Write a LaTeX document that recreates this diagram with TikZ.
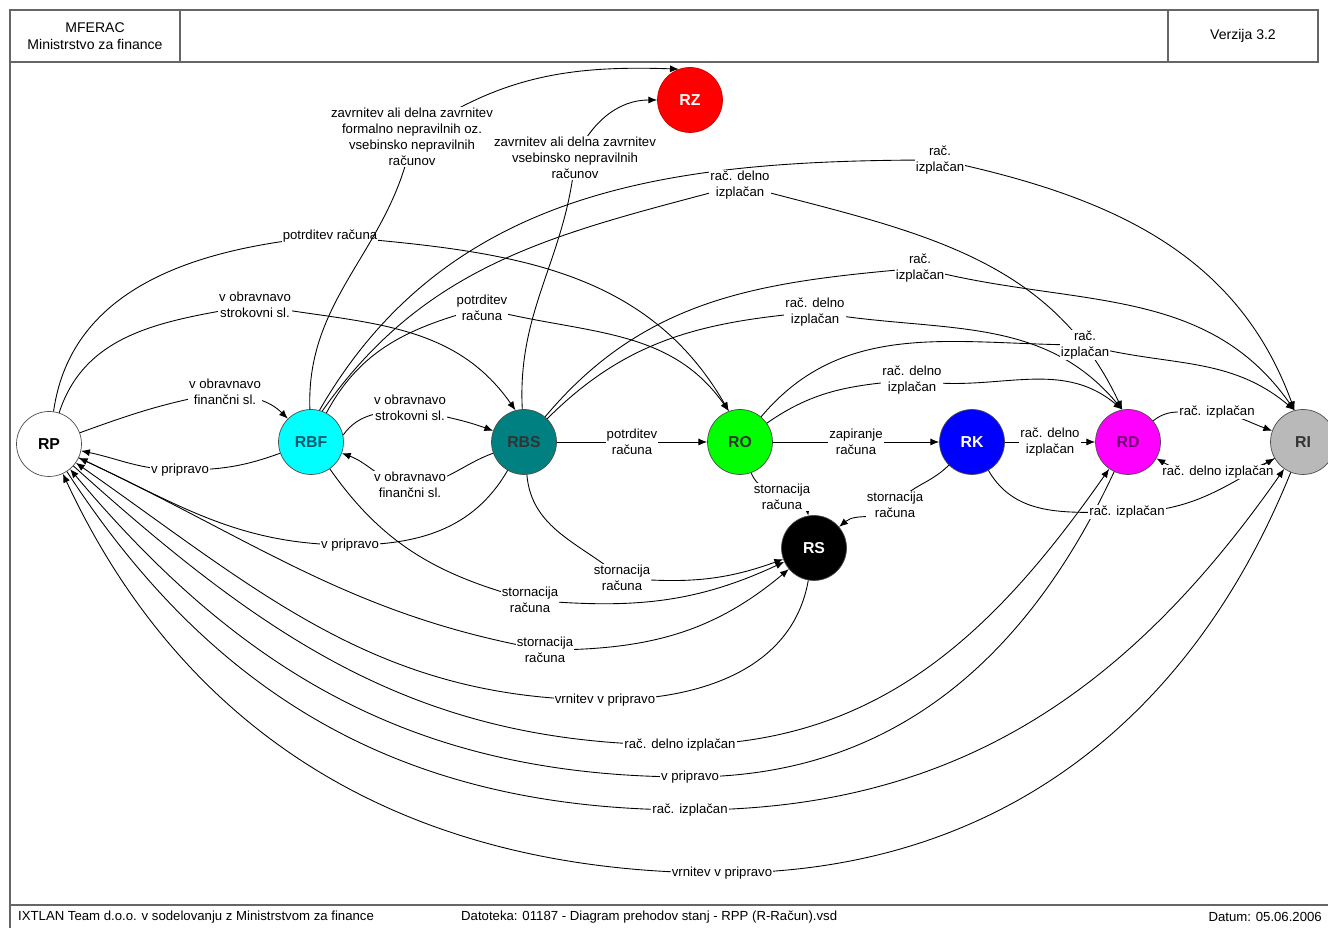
\documentclass[tikz,border=0pt]{standalone}
\usepackage{fontspec}
\setmainfont{Liberation Sans}
\usetikzlibrary{arrows.meta}

\definecolor{riGray}{RGB}{185,185,185}
\definecolor{rdText}{RGB}{110,0,110}
\definecolor{rbfText}{RGB}{0,90,110}
\definecolor{rbfCyan}{RGB}{0,255,255}
\definecolor{rdMagenta}{RGB}{255,0,255}
\definecolor{roGreen}{RGB}{0,255,0}
\definecolor{rbsTeal}{RGB}{0,128,128}

\begin{document}
\begin{tikzpicture}[
  x=0.02cm, y=0.02cm,
  state/.style={draw=black!70,circle,minimum size=1.3cm,inner sep=0pt,
    font=\fontsize{9}{10}\selectfont\bfseries},
  white_state/.style={fill=white},
  cyan_state/.style={fill=rbfCyan,text=rbfText},
  teal_state/.style={fill=rbsTeal,text=black!80},
  green_state/.style={fill=roGreen,text=black!80},
  blue_state/.style={fill=blue,text=white},
  magenta_state/.style={fill=rdMagenta,text=rdText},
  gray_state/.style={fill=riGray,text=black!80},
  black_state/.style={fill=black,text=white},
  red_state/.style={fill=red,draw=red!80!black,text=white},
  trans/.style={-{Latex[length=5pt,width=4pt]},line width=0.5pt},
  lbl/.style={fill=white,inner sep=0.6pt,align=center,
    font=\fontsize{7.5}{9}\selectfont},
  frame/.style={draw=black!60,line width=0.8pt},
  info/.style={font=\fontsize{8}{9.5}\selectfont,align=center},
  foot/.style={font=\fontsize{7.5}{9}\selectfont}
  ]
	\useasboundingbox (0,0) rectangle (1328,928);

	% header and frame
	\draw[frame] (10,866) rectangle (1318,918);
	\draw[frame] (180,866) -- (180,918);
	\draw[frame] (1168,866) -- (1168,918);
	\draw[frame] (10,866) -- (10,0);
	\draw[frame] (10,23) -- (1328,23);
	\node[info] (org) at (95,892) {MFERAC\\Ministrstvo za finance};
	\node[info] (ver) at (1243,892) {Verzija 3.2};
	\node[foot,anchor=west] (team) at (12,11) {IXTLAN Team d.o.o. v sodelovanju z Ministrstvom za finance};
	\node[foot,anchor=west] (file) at (455,11) {Datoteka: 01187 - Diagram prehodov stanj - RPP (R-Račun).vsd};
	\node[foot,anchor=east] (date) at (1328,11) {Datum: 05.06.2006};

	% states
	\node[state,white_state] (RP) at (49,484) {RP};
	\node[state,cyan_state] (RBF) at (311,486) {RBF};
	\node[state,teal_state] (RBS) at (524,486) {RBS};
	\node[state,green_state] (RO) at (740,486) {RO};
	\node[state,blue_state] (RK) at (972,486) {RK};
	\node[state,magenta_state] (RD) at (1128,486) {RD};
	\node[state,gray_state] (RI) at (1303,486) {RI};
	\node[state,black_state] (RS) at (814,380) {RS};
	\node[state,red_state] (RZ) at (690,828) {RZ};

	% from RP
	\draw[trans] (RP) to[out=20,in=190] (225,536) node[lbl] {v obravnavo\\finančni sl.} to[out=-10,in=135] (RBF);
	\draw[trans] (RP) to[out=72,in=190] (255,623) node[lbl] {v obravnavo\\strokovni sl.} to[out=-10,in=125] (RBS.105);
	\draw[trans] (RP) to[out=82,in=185] (330,692) node[lbl] {potrditev računa} to[out=-5,in=120] (RO.110);
	\draw[trans] (RP) to[out=-25,in=170] (545,278) node[lbl] {stornacija\\računa} to[out=0,in=220] (RS);
	\draw[trans] (RP) to[out=-42,in=180] (680,183) node[lbl] {rač. delno izplačan} to[out=0,in=235] (RD);
	\draw[trans] (RP) to[out=-57,in=180] (690,118) node[lbl] {rač. izplačan} to[out=0,in=235] (RI.235);

	% back to RP
	\draw[trans] (RBF) to[out=200,in=0] (180,458) node[lbl] {v pripravo} to[out=180,in=-12] (RP);
	\draw[trans] (RBS) to[out=240,in=0] (350,383) node[lbl] {v pripravo} to[out=180,in=-25] (RP);
	\draw[trans] (RS) to[out=-100,in=0] (605,228) node[lbl] {vrnitev v pripravo} to[out=180,in=-35] (RP);
	\draw[trans] (RD) to[out=-115,in=0] (690,151) node[lbl] {v pripravo} to[out=180,in=-50] (RP);
	\draw[trans] (RI) to[out=-112,in=0] (722,55) node[lbl] {vrnitev v pripravo} to[out=180,in=-65] (RP);

	% from RBF
	\draw[trans] (RBF.12) to[out=55,in=190] (410,520) node[lbl] {v obravnavo\\strokovni sl.} to[out=-15,in=160] (RBS);
	\draw[trans] (RBF) to[out=92,in=260] (412,791) node[lbl] {zavrnitev ali delna zavrnitev\\formalno nepravilnih oz.\\vsebinsko nepravilnih\\računov} to[out=35,in=178] (RZ.110);
	\draw[trans] (RBF) to[out=62,in=195] (482,620) node[lbl] {potrditev\\računa} to[out=-15,in=125] (RO.110);
	\draw[trans] (RBF.75) to[out=60,in=180] (940,768) node[lbl] {rač.\\izplačan} to[out=-12,in=110] (RI.105);
	\draw[trans] (RBF.70) to[out=55,in=195] (740,743) node[lbl] {rač. delno\\izplačan} to[out=-15,in=115] (RD.100);
	\draw[trans] (RBF) to[out=-55,in=165] (530,328) node[lbl] {stornacija\\računa} to[out=-5,in=205] (RS);

	% from RBS
	\draw[trans] (RBS) to[out=200,in=0] (410,443) node[lbl] {v obravnavo\\finančni sl.} to[out=175,in=-20] (RBF);
	\draw[trans] (RBS) to[out=93,in=265] (575,770) node[lbl] {zavrnitev ali delna zavrnitev\\vsebinsko nepravilnih\\računov} to[out=65,in=180] (RZ);
	\draw[trans] (RBS) -- node[lbl] {potrditev\\računa} (RO);
	\draw[trans] (RBS) to[out=50,in=185] (920,660) node[lbl] {rač.\\izplačan} to[out=-15,in=125] (RI.105);
	\draw[trans] (RBS) to[out=45,in=185] (815,616) node[lbl] {rač. delno\\izplačan} to[out=-10,in=130] (RD.100);
	\draw[trans] (RBS) to[out=-85,in=140] (622,350) node[lbl] {stornacija\\računa} to[out=-5,in=200] (RS);

	% from RO
	\draw[trans] (RO) -- node[lbl] {zapiranje\\računa} (RK);
	\draw[trans] (RO) to[out=50,in=180] (1085,583) node[lbl] {rač.\\izplačan} to[out=-15,in=140] (RI.105);
	\draw[trans] (RO) to[out=35,in=185] (912,548) node[lbl] {rač. delno\\izplačan} to[out=-10,in=140] (RD.100);
	\draw[trans] (RO) to[out=-70,in=150] (782,431) node[lbl] {stornacija\\računa} to[out=-30,in=100] (RS);

	% from RK
	\draw[trans] (RK) -- node[lbl] {rač. delno\\izplačan} (RD);
	\draw[trans] (RK) to[out=-60,in=180] (1127,416) node[lbl] {rač. izplačan} to[out=0,in=210] (RI);
	\draw[trans] (RK) to[out=225,in=50] (895,423) node[lbl] {stornacija\\računa} to[out=230,in=40] (RS);

	% between RD and RI
	\draw[trans] (RD) to[out=40,in=190] (1217,516) node[lbl] {rač. izplačan} to[out=-10,in=160] (RI);
	\draw[trans] (RI) to[out=210,in=0] (1218,456) node[lbl] {rač. delno izplačan} to[out=180,in=-30] (RD);
\end{tikzpicture}
\end{document}
